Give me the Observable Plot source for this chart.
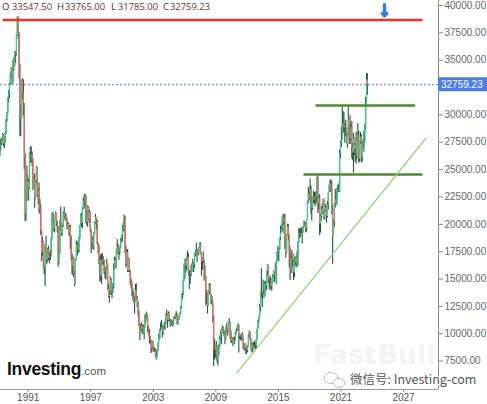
<!DOCTYPE html>
<html><head><meta charset="utf-8">
<script src="https://cdn.jsdelivr.net/npm/d3@7"></script>
<script src="https://cdn.jsdelivr.net/npm/@observablehq/plot@0.6"></script>
<style>
html,body{margin:0;padding:0;background:#fff;}
#wrap{position:relative;width:487px;height:404px;overflow:hidden;}
</style></head>
<body><div id="wrap"></div>
<script>
// Monthly Nikkei 225 candles (Jan 1988 .. Jul 2023), read/estimated from the chart
const startYear = 1988;
const firstOpen = 21564;
const closes = [
 23719,24370,26260,27434,27418,27769,28163,27366,27923,28337,29579,30159, // 1988
 31581,31985,32839,33713,34266,32949,34954,34431,35637,35549,37269,38916, // 1989
 37189,34592,29980,29584,33131,31940,31036,25978,20984,25194,22454,23849, // 1990
 23293,26409,26292,26111,25790,23291,24121,22336,23916,25222,22688,22984, // 1991
 22023,21339,19346,17391,18348,15952,15910,18061,17399,16767,17684,16925, // 1992
 17024,17098,18591,20919,20552,19591,20380,21027,20106,19704,16408,17417, // 1993
 20229,19997,19112,19725,20974,20644,20462,20629,19564,19990,19076,19723, // 1994
 18650,17053,16140,16807,15437,14517,16678,18117,17913,17655,18744,19868, // 1995
 20813,20125,21407,22041,21956,22531,20693,20167,21556,20466,21020,19361, // 1996
 18330,18557,18003,19151,20069,20605,20331,18229,17888,16459,16636,15259, // 1997
 16628,16831,16527,15641,15671,15830,16379,14108,13406,13565,14883,13842, // 1998
 14499,14368,15837,16701,16112,17530,17862,17437,17605,17942,18558,18934, // 1999
 19540,19960,20337,17974,16332,17411,15727,16861,15747,14539,14649,13785, // 2000
 13843,12883,12999,13934,13262,12969,11860,10713,9774,10366,10697,10542,  // 2001
 9997,10587,11024,11492,11763,10621,9877,9619,9383,8640,9215,8578,        // 2002
 8339,8363,7972,7831,8424,9083,9563,10343,10219,10559,10100,10676,        // 2003
 10783,11041,11715,11761,11236,11858,11325,11081,10823,10771,10899,11488, // 2004
 11387,11740,11668,11008,11276,11584,11899,12413,13574,13606,14872,16111, // 2005
 16649,16205,17059,16906,15467,15505,15456,16140,16127,16399,16274,17225, // 2006
 17383,17604,17287,17400,17875,18138,17248,16569,16785,16737,15680,15307, // 2007
 13592,13603,12525,13849,14338,13481,13376,13072,11259,8576,8512,8859,    // 2008
 7994,7568,8109,8828,9522,9958,10356,10492,10133,10034,9345,10546,        // 2009
 10198,10126,11089,11057,9768,9382,9537,8824,9369,9202,9937,10228,        // 2010
 10237,10624,9755,9849,9693,9816,9833,8955,8700,8988,8434,8455,           // 2011
 8802,9723,10083,9520,8542,9006,8695,8839,8870,8928,9446,10395,           // 2012
 11138,11559,12397,13860,13774,13677,13668,13389,14455,14327,15662,16291, // 2013
 14914,14841,14828,14304,14632,15162,15621,15425,16174,16414,17460,17451, // 2014
 17674,18798,19207,19520,20563,20236,20585,18890,17388,19083,19747,19034, // 2015
 17518,16027,16759,16666,17235,15576,16569,16887,16450,17425,18308,19114, // 2016
 19041,19119,18909,19197,19651,20033,19925,19646,20356,22012,22725,22765, // 2017
 23098,22068,21454,22468,22202,22305,22554,22865,24120,21920,22351,20015, // 2018
 20773,21385,21206,22259,20601,21276,21521,20704,21756,22927,23294,23657, // 2019
 23205,21143,18917,20194,21878,22288,21710,23140,23185,22977,26434,27444, // 2020
 27663,28966,29179,28813,28860,28792,27284,28090,29453,28893,27822,28792, // 2021
 27002,26527,27821,26848,27280,26393,27802,28092,25937,27587,27969,26095, // 2022
 27327,27446,28041,28856,30888,33189,32759.23                             // 2023
];
const highs = [
 23900,24500,26400,27600,27800,27900,28300,28200,28000,28400,29600,30200,
 31600,32200,32900,33800,34300,34200,35000,35200,35700,35800,37300,38957,
 38950,37500,34600,30800,33200,33300,33200,31000,26500,25300,25300,24500,
 24100,26500,27100,27100,26600,26000,24300,24600,24000,25300,25200,23300,
 23800,22300,21800,19400,18800,18400,16200,18100,18900,17500,17800,18000,
 17400,17600,18700,21000,21100,20900,20400,21148,21000,20300,19800,17500,
 20300,21573,20100,19900,21100,21552,20900,21000,20600,20200,20100,19900,
 19900,18900,17300,17100,16900,15700,16800,18500,18300,18400,18800,19900,
 20900,21000,21500,22400,22700,22750,22600,21300,21700,21600,21300,21100,
 19500,18900,18800,19200,20200,20910,20600,20400,18300,18100,17100,17200,
 17300,17300,17000,16700,16100,16000,16800,16300,14500,14000,15200,15000,
 14600,14600,16400,17000,16900,17600,18600,18200,17800,18000,18700,19000,
 19900,20200,20833,20700,18000,17700,17700,16900,16900,15800,15000,14700,
 14100,13800,13400,14500,14556,13400,12900,12100,10900,10800,11000,10800,
 10800,10600,11700,11800,11979,11700,10700,10400,9800,9400,9300,9300,
 8800,8700,8600,8400,8500,9200,10000,10400,11000,11200,10700,10700,
 11000,11100,11800,12163,11800,12000,11900,11200,11300,11200,11100,11500,
 11600,11800,12000,11800,11300,11600,11900,12500,13600,13800,14900,16400,
 16800,16800,17100,17563,17300,15800,15700,16200,16400,16800,16500,17300,
 17600,18300,17700,17600,17900,18297,18300,17300,16900,17500,16700,16200,
 15200,14000,13700,13900,14600,14500,13600,13400,12800,11600,9500,8900,
 9300,8000,8900,9000,9800,10200,10400,10700,10600,10300,10100,10600,
 10900,10400,11100,11400,11000,10200,9700,9600,9600,9700,10100,10400,
 10600,10900,10800,9900,9900,9900,10100,9800,9000,9100,8900,8700,
 8900,9900,10255,10100,9500,9100,9100,9200,9300,9100,9500,10400,
 11200,11600,12700,13900,15942,13800,14900,14000,14800,14800,15700,16320,
 16100,15000,15300,15100,14700,15400,15700,15600,16400,16600,17500,18000,
 17800,18800,19800,20000,20600,20952,20900,20900,18900,19100,20000,20000,
 18500,17900,17300,17600,17300,17200,16900,17000,17100,17500,18400,19600,
 19600,19600,19700,19300,19800,20300,20200,20100,20400,22100,23382,23000,
 24129,23500,22500,22500,23050,22900,22900,23000,24300,24448,22500,22700,
 20900,21600,21800,22300,22300,21300,21800,21600,22100,22900,23600,24000,
 24100,23900,21700,20400,21900,23200,22900,23300,23600,23700,26800,27600,
 28900,30714,30300,30200,29200,29500,28800,28300,30795,29300,29900,29100,
 29400,27400,28300,27900,27400,28400,27900,29222,28500,27600,28400,28200,
 27500,27800,28500,29100,31600,33772,33765
];
const lows = [
 21200,23600,24300,26200,26700,27200,27600,27100,26900,27400,28200,29300,
 30100,31100,31500,32700,33300,32700,32900,34000,34400,34700,35400,37200,
 36900,33300,28000,28000,29700,31400,29900,25000,20221,20300,22100,22400,
 22100,23200,25600,25600,25300,23100,23300,21456,22300,23700,22500,21800,
 21000,20900,19000,16600,17100,15900,15400,14309,17300,16300,16500,16700,
 16400,16700,17000,18600,20000,19300,19200,20400,19800,19200,16078,16300,
 17300,19400,18900,19000,19700,20500,20300,20300,19500,19500,19000,18900,
 17700,16700,15400,15300,15100,14295,14500,16800,17100,17300,17400,18600,
 19800,19700,19600,21300,21400,21700,20100,19900,19700,20400,20100,19300,
 17300,17700,17900,17600,19100,20000,19500,18100,17300,16300,14700,14800,
 14500,16300,16200,15400,15000,14900,15800,14000,13300,12787,13500,13500,
 13200,13700,14100,15800,16000,16000,17500,17200,16700,17200,17800,18300,
 18400,19300,19400,17300,16000,16200,15600,15600,15600,14400,14100,13400,
 13000,12800,11800,12900,13100,12400,11600,10700,9382,9900,10200,10000,
 9900,9420,10500,11000,11300,10100,9800,9100,9000,8197,8300,8500,
 8300,8300,7860,7603,7800,8400,9300,9500,10200,10300,9600,9900,
 10400,10300,10800,11600,10500,11100,11100,10600,10800,10700,10600,10800,
 11300,11300,11500,10800,10800,11200,11500,11800,12300,13100,13500,14800,
 15000,15600,15800,16800,15300,14045,14500,15200,15600,16200,15600,16000,
 17000,17300,16500,17100,17200,17800,17200,15262,15800,16400,14800,15200,
 12500,12700,11800,12500,13600,13500,12700,12600,11000,6994,7600,7800,
 7600,7300,7054,8000,8700,9400,9000,10200,9900,9700,9000,9400,
 10100,9800,10100,10900,9500,9100,9100,8800,9000,9000,9200,9900,
 10200,10200,8227,9500,9400,9300,9800,8600,8400,8500,8100,8100,
 8300,8800,9600,9400,8500,8238,8300,8600,8700,8500,8600,9400,
 10400,10900,11600,12000,13200,12400,13600,13200,13400,13900,14000,15300,
 14600,13995,14200,13900,13900,14600,15100,14700,15500,14500,16600,16600,
 16600,17600,18500,19200,19300,19900,19100,17700,16900,17300,19000,18500,
 16000,14865,16000,15500,16100,14864,15100,16200,16000,16500,16100,18300,
 18700,18800,18900,18200,19200,19700,19800,19200,19300,20400,21900,22100,
 22700,20900,20300,21300,21900,21800,21600,21900,22300,20970,21300,18949,
 19200,20300,20900,21500,20400,20400,21100,20100,20600,21300,22900,23000,
 22900,20900,16358,19000,19700,21500,21700,21800,22900,22900,22900,26000,
 27000,27700,28300,28400,27400,28000,27300,26954,28100,27300,27300,27600,
 26000,25800,24682,26300,25700,25500,25900,27600,25600,25700,27300,25600,
 25700,27000,26600,27400,28600,31400,31785
];
const lastBar = {open: 33547.50, high: 33765.00, low: 31785.00, close: 32759.23};

// axis ticks
const yTicks = [7500,10000,12500,15000,17500,20000,22500,25000,27500,30000,35000,37500,40000];
const xTickYears = [1991,1997,2003,2009,2015,2021,2027];

// drawn annotation lines (dates, levels)
const levelValues = [38675, 30860, 24553];
const levelFrom = ["1988-07-12","2018-07-23","2017-05-30"];
const levelTo   = ["2028-10-27","2028-02-14","2028-10-27"];
const trendDates = ["2011-01-01","2029-02-15"];
const trendValues = [6390, 27843];
const arrowDate = "2025-03-07", arrowValue = 39560;

const data = closes.map((c, i) => ({
  date: new Date(Date.UTC(startYear, i, 15)),
  open: i ? closes[i - 1] : firstOpen,
  close: c, high: highs[i], low: lows[i]
}));
const levels = levelValues.map((v, i) => ({v, x1: new Date(levelFrom[i]), x2: new Date(levelTo[i]), k: i}));
const trend = trendDates.map((d, i) => ({date: new Date(d), v: trendValues[i]}));

const xMin = new Date("1988-05-05"), xMax = new Date("2030-05-11");
const axisFont = "'Liberation Sans', Arial, sans-serif";

const plot = Plot.plot({
  width: 487, height: 404,
  marginLeft: 0, marginRight: 49, marginTop: 0, marginBottom: 15,
  style: {fontFamily: axisFont, fontSize: "10px", color: "#555", background: "#fff"},
  x: {type: "utc", domain: [xMin, xMax], axis: null},
  y: {domain: [4900, 40457], axis: null},
  marks: [
    Plot.text(["FastBull"], {frameAnchor: "bottom-right", dx: -3, dy: -26, fontSize: 27, fontWeight: "bold", fill: "#f3f3f3", fontFamily: "'DejaVu Sans', sans-serif"}),
    Plot.ruleX(data, {x: "date", y1: "low", y2: "high", stroke: "#23553a", strokeWidth: 1.1, clip: true}),
    Plot.ruleX(data, {x: "date", y1: "open", y2: "close", stroke: d => d.close >= d.open ? "#33d68e" : "#f26b63", strokeWidth: 1.2, clip: true}),
    Plot.ruleY([lastBar.close], {x1: xMin, x2: xMax, stroke: "#5b82e6", strokeDasharray: "2,2", strokeWidth: 1}),
    Plot.ruleX([xMax], {y1: 4900, y2: 40457, stroke: "#888"}),
    Plot.ruleY([4900], {x1: xMin, x2: xMax, stroke: "#999"}),
    Plot.axisY(yTicks, {anchor: "right", tickSize: 4, tickPadding: 2, tickFormat: d3.format(".2f"), stroke: "#888", fill: "#666", fontSize: 10}),
    Plot.axisX(xTickYears.map(y => new Date(Date.UTC(y, 0, 1))), {anchor: "bottom", tickSize: 3, tickPadding: 1, tickFormat: d3.utcFormat("%Y"), stroke: "#888", fill: "#555", fontSize: 10}),
    Plot.link(levels, {x1: "x1", x2: "x2", y1: "v", y2: "v", stroke: d => d.k === 0 ? "#f0312b" : "#4f8a2e", strokeWidth: 2.5}),
    Plot.line(trend, {x: "date", y: "v", stroke: "#98d07a", strokeWidth: 1.2}),
    Plot.vector([0], {x: () => new Date(arrowDate), y: () => arrowValue, length: 11, rotate: 180, anchor: "middle", stroke: "#3c7fd0", strokeWidth: 3.5})
  ]
});
document.getElementById("wrap").appendChild(plot);

// overlays placed with the plot's own scales
const svg = d3.select(plot);
const yS = plot.scale("y"), xS = plot.scale("x");
const yP = yS.apply(lastBar.close);
const rightX = xS.apply(xMax);
const g = svg.append("g").attr("text-anchor", "start");
g.append("rect").attr("x", rightX).attr("y", yP - 7).attr("width", 487 - rightX).attr("height", 14).attr("fill", "#4a7de6");
g.append("text").attr("x", rightX + 3).attr("y", yP + 3.5).attr("fill", "#fff").attr("font-family", axisFont).attr("font-size", 10).text(d3.format(".2f")(lastBar.close));

// OHLC header
const hdr = [["O", 2, 12, lastBar.open], ["H", 57, 65, lastBar.high], ["L", 111, 118, lastBar.low], ["C", 163, 170, lastBar.close]];
const ht = svg.append("g").attr("text-anchor", "start").attr("font-family", "'Open Sans', sans-serif").attr("font-size", 9.5);
hdr.forEach(([k, xk, xv, v]) => {
  ht.append("text").attr("x", xk).attr("y", 10).attr("fill", "#333").text(k);
  ht.append("text").attr("x", xv).attr("y", 10).attr("fill", "#6b3030")
    .attr("textLength", 40).attr("lengthAdjust", "spacingAndGlyphs").text(d3.format(".2f")(v));
});

// Investing.com logo
const lg = svg.append("text").attr("text-anchor", "start").attr("x", 7).attr("y", 375).attr("font-family", "'Liberation Sans', Arial, sans-serif");
lg.append("tspan").attr("font-size", 17.5).attr("font-weight", "bold").attr("fill", "#111").attr("letter-spacing", -0.3).text("Investing");
lg.append("tspan").attr("font-size", 11.5).attr("fill", "#555").text(".com");

// WeChat watermark
const wc = svg.append("g").attr("fill", "none").attr("stroke", "#bbb").attr("stroke-width", 1);
wc.append("ellipse").attr("cx", 331).attr("cy", 378).attr("rx", 7).attr("ry", 5.5);
wc.append("ellipse").attr("cx", 339).attr("cy", 383).attr("rx", 6).attr("ry", 4.5).attr("fill", "#fff");
svg.append("text").attr("text-anchor", "start").attr("x", 350).attr("y", 384).attr("font-family", "'Noto Sans CJK SC', sans-serif").attr("font-size", 12.5)
  .attr("fill", "#555").attr("stroke", "#fff").attr("stroke-width", 2).attr("paint-order", "stroke").text("微信号: Investing-com");
</script>
</body></html>
